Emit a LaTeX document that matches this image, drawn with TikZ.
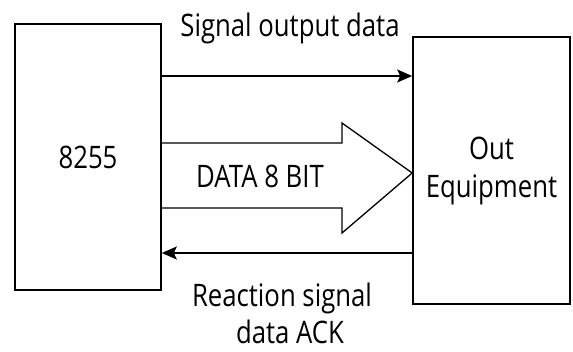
\documentclass[tikz,border=0pt]{standalone}
\usepackage{fontspec}
\setmainfont{Open Sans}[FakeStretch=0.83]
\usetikzlibrary{arrows.meta}
\begin{document}
\begin{tikzpicture}[x=1pt,y=-1pt,
  box/.style={draw,line width=1.6pt,inner sep=0pt,align=center},
  sig/.style={line width=1.8pt,-{Stealth[length=15pt,width=13pt,inset=3pt]}},
  bigarrow/.style={line width=1.3pt,line join=miter},
  lbl/.style={inner sep=0pt,anchor=base},
  every node/.style={font=\fontsize{31}{38}\selectfont}]
\useasboundingbox (0,0) rectangle (573,352);
\node[box,minimum width=146pt,minimum height=266pt] (L) at (88,157) {8255};
\node[box,minimum width=157pt,minimum height=267pt] (R) at (491.5,170.5) {Out\\Equipment};
% signal output data arrow
\coordinate (s1) at (L.east |- {0,76});
\coordinate (s2) at (R.west |- {0,76});
\draw[sig] (s1) -- (s2);
% ack arrow
\coordinate (a1) at (R.west |- {0,253});
\coordinate (a2) at (L.east |- {0,253});
\draw[sig] (a1) -- (a2);
% big data arrow
\coordinate (d0) at (L.east |- {0,143});
\coordinate (d6) at (L.east |- {0,208});
\coordinate (tip) at (R.west |- {0,173});
\draw[bigarrow] (d0) -- (342,143) -- (342,123) -- (tip) -- (342,233) -- (342,208) -- (d6);
\node[inner sep=0pt] (dl) at (260,176) {DATA 8 BIT};
\node[lbl] (top) at (290,37) {Signal output data};
\node[lbl] (ack1) at (282,307) {Reaction signal};
\node[lbl] (ack2) at (290,344) {data ACK};
\end{tikzpicture}
\end{document}
